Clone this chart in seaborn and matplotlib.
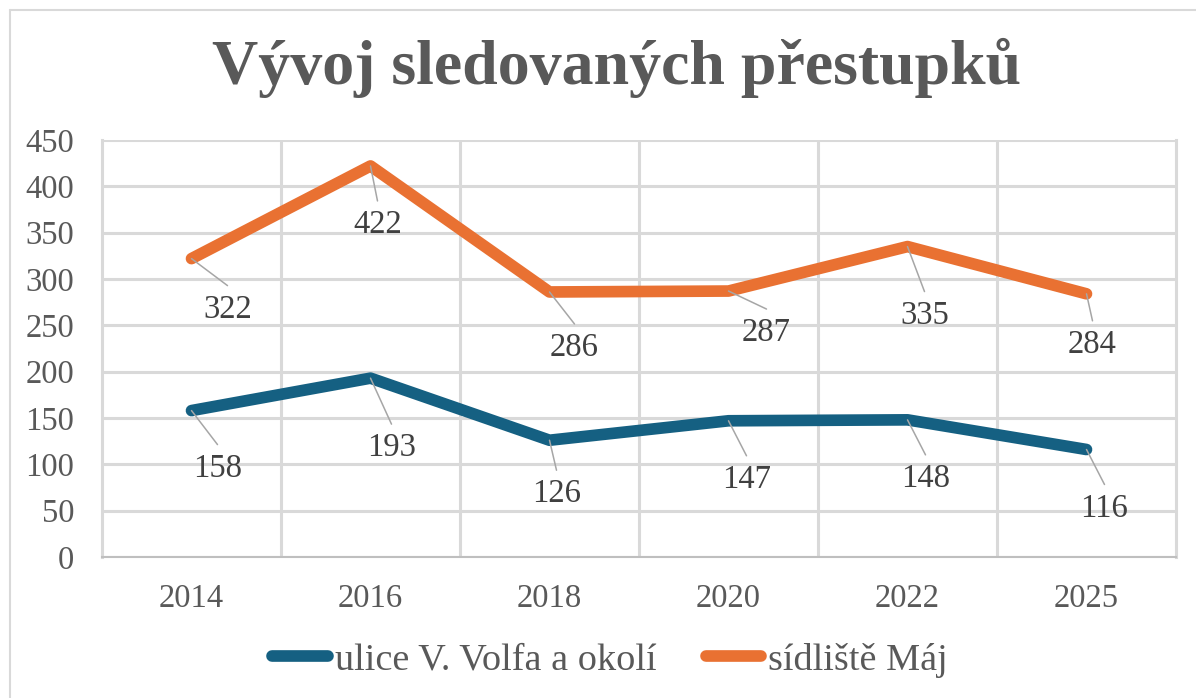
import matplotlib
matplotlib.use("Agg")
import matplotlib.pyplot as plt
from matplotlib.lines import Line2D
from matplotlib.ticker import FixedLocator, MultipleLocator
import seaborn as sns
import pandas as pd

# ---- data ----
years = ["2014", "2016", "2018", "2020", "2022", "2025"]
series_names = ["ulice V. Volfa a okolí", "sídliště Máj"]
volfa = [158, 193, 126, 147, 148, 116]
maj = [322, 422, 286, 287, 335, 284]
title = "Vývoj sledovaných přestupků"

# ---- styles / layout ----
colors = {"ulice V. Volfa a okolí": "#156082", "sídliště Máj": "#E97132"}
# label offsets (pixels, dx right, dy down) from each point
volfa_offsets = [(26, 58), (21, 70), (7, 54), (18, 59), (18, 59), (18, 59)]
maj_offsets = [(36, 51), (7, 59), (25, 56), (38, 42), (17, 69), (6, 51)]

sns.set_theme(style="white")
plt.rcParams["font.family"] = ["Liberation Serif", "DejaVu Serif"]

df = pd.DataFrame({
    "year": years * 2,
    "value": volfa + maj,
    "series": [series_names[0]] * len(years) + [series_names[1]] * len(years),
})

fig = plt.figure(figsize=(11.96, 6.98), dpi=100)
W, H = 1196, 698
ax = fig.add_axes([102 / W, 1 - 557 / H, (1176 - 102) / W, (557 - 140) / H])

sns.lineplot(data=df, x="year", y="value", hue="series", palette=colors,
             hue_order=series_names, sort=False, linewidth=8.4, ax=ax,
             legend=True)
for ln in ax.lines:
    ln.set_solid_capstyle("round")
    ln.set_solid_joinstyle("round")

ax.set_xlim(-0.5, len(years) - 0.5)
ax.set_ylim(0, 450)
ax.yaxis.set_major_locator(MultipleLocator(50))
ax.set_xticks(range(len(years)))
ax.set_xticklabels(years)
ax.xaxis.set_minor_locator(FixedLocator([i + 0.5 for i in range(len(years) - 1)]))
ax.set_xlabel("")
ax.set_ylabel("")

grid_c = "#D9D9D9"
ax.grid(False)
ax.yaxis.grid(True, which="major", color=grid_c, linewidth=2.2)
ax.xaxis.grid(True, which="minor", color=grid_c, linewidth=2.2)
ax.set_axisbelow(True)
for s in ["left", "right"]:
    ax.spines[s].set_visible(True)
    ax.spines[s].set_color(grid_c)
    ax.spines[s].set_linewidth(2.2)
ax.spines["top"].set_visible(False)
ax.spines["bottom"].set_color("#BFBFBF")
ax.spines["bottom"].set_linewidth(1.5)

ax.tick_params(axis="both", which="both", length=0, labelsize=23.5,
               labelcolor="#595959")
ax.tick_params(axis="y", pad=20)
ax.tick_params(axis="x", pad=19)

# data labels with leader lines
def add_labels(vals, offs):
    for i, (v, (dx, dy)) in enumerate(zip(vals, offs)):
        ax.annotate("", xy=(i, v), xytext=(dx, -(dy - 24)),
                    textcoords="offset pixels",
                    arrowprops=dict(arrowstyle="-", color="#A6A6A6", lw=1.1,
                                    shrinkA=0, shrinkB=0))
        ax.annotate(str(v), xy=(i, v), xytext=(dx, -dy),
                    textcoords="offset pixels", ha="center", va="center",
                    fontsize=23.5, color="#404040")

add_labels(volfa, volfa_offsets)
add_labels(maj, maj_offsets)

# legend
handles, labels = ax.get_legend_handles_labels()
for h in handles:
    h.set_linewidth(8.4)
    h.set_solid_capstyle("round")
ax.legend(handles, labels, loc="center", bbox_to_anchor=(610 / W, 1 - 660 / H),
          bbox_transform=fig.transFigure, ncol=2, frameon=False,
          fontsize=27.5, labelcolor="#595959", handlelength=1.45,
          handletextpad=0.18, columnspacing=1.3, borderaxespad=0)

# title
fig.text(617 / W, 1 - 84 / H, title, ha="center", va="baseline",
         fontsize=46, fontweight="bold", color="#595959")

# chart border (left and top visible)
fig.add_artist(Line2D([10 / W, 10 / W], [-0.1, 1 - 10 / H], color="#D9D9D9",
                      lw=1.5, transform=fig.transFigure))
fig.add_artist(Line2D([10 / W, 1.1], [1 - 10 / H, 1 - 10 / H], color="#D9D9D9",
                      lw=1.5, transform=fig.transFigure))

fig.savefig("out.png", dpi=100)
